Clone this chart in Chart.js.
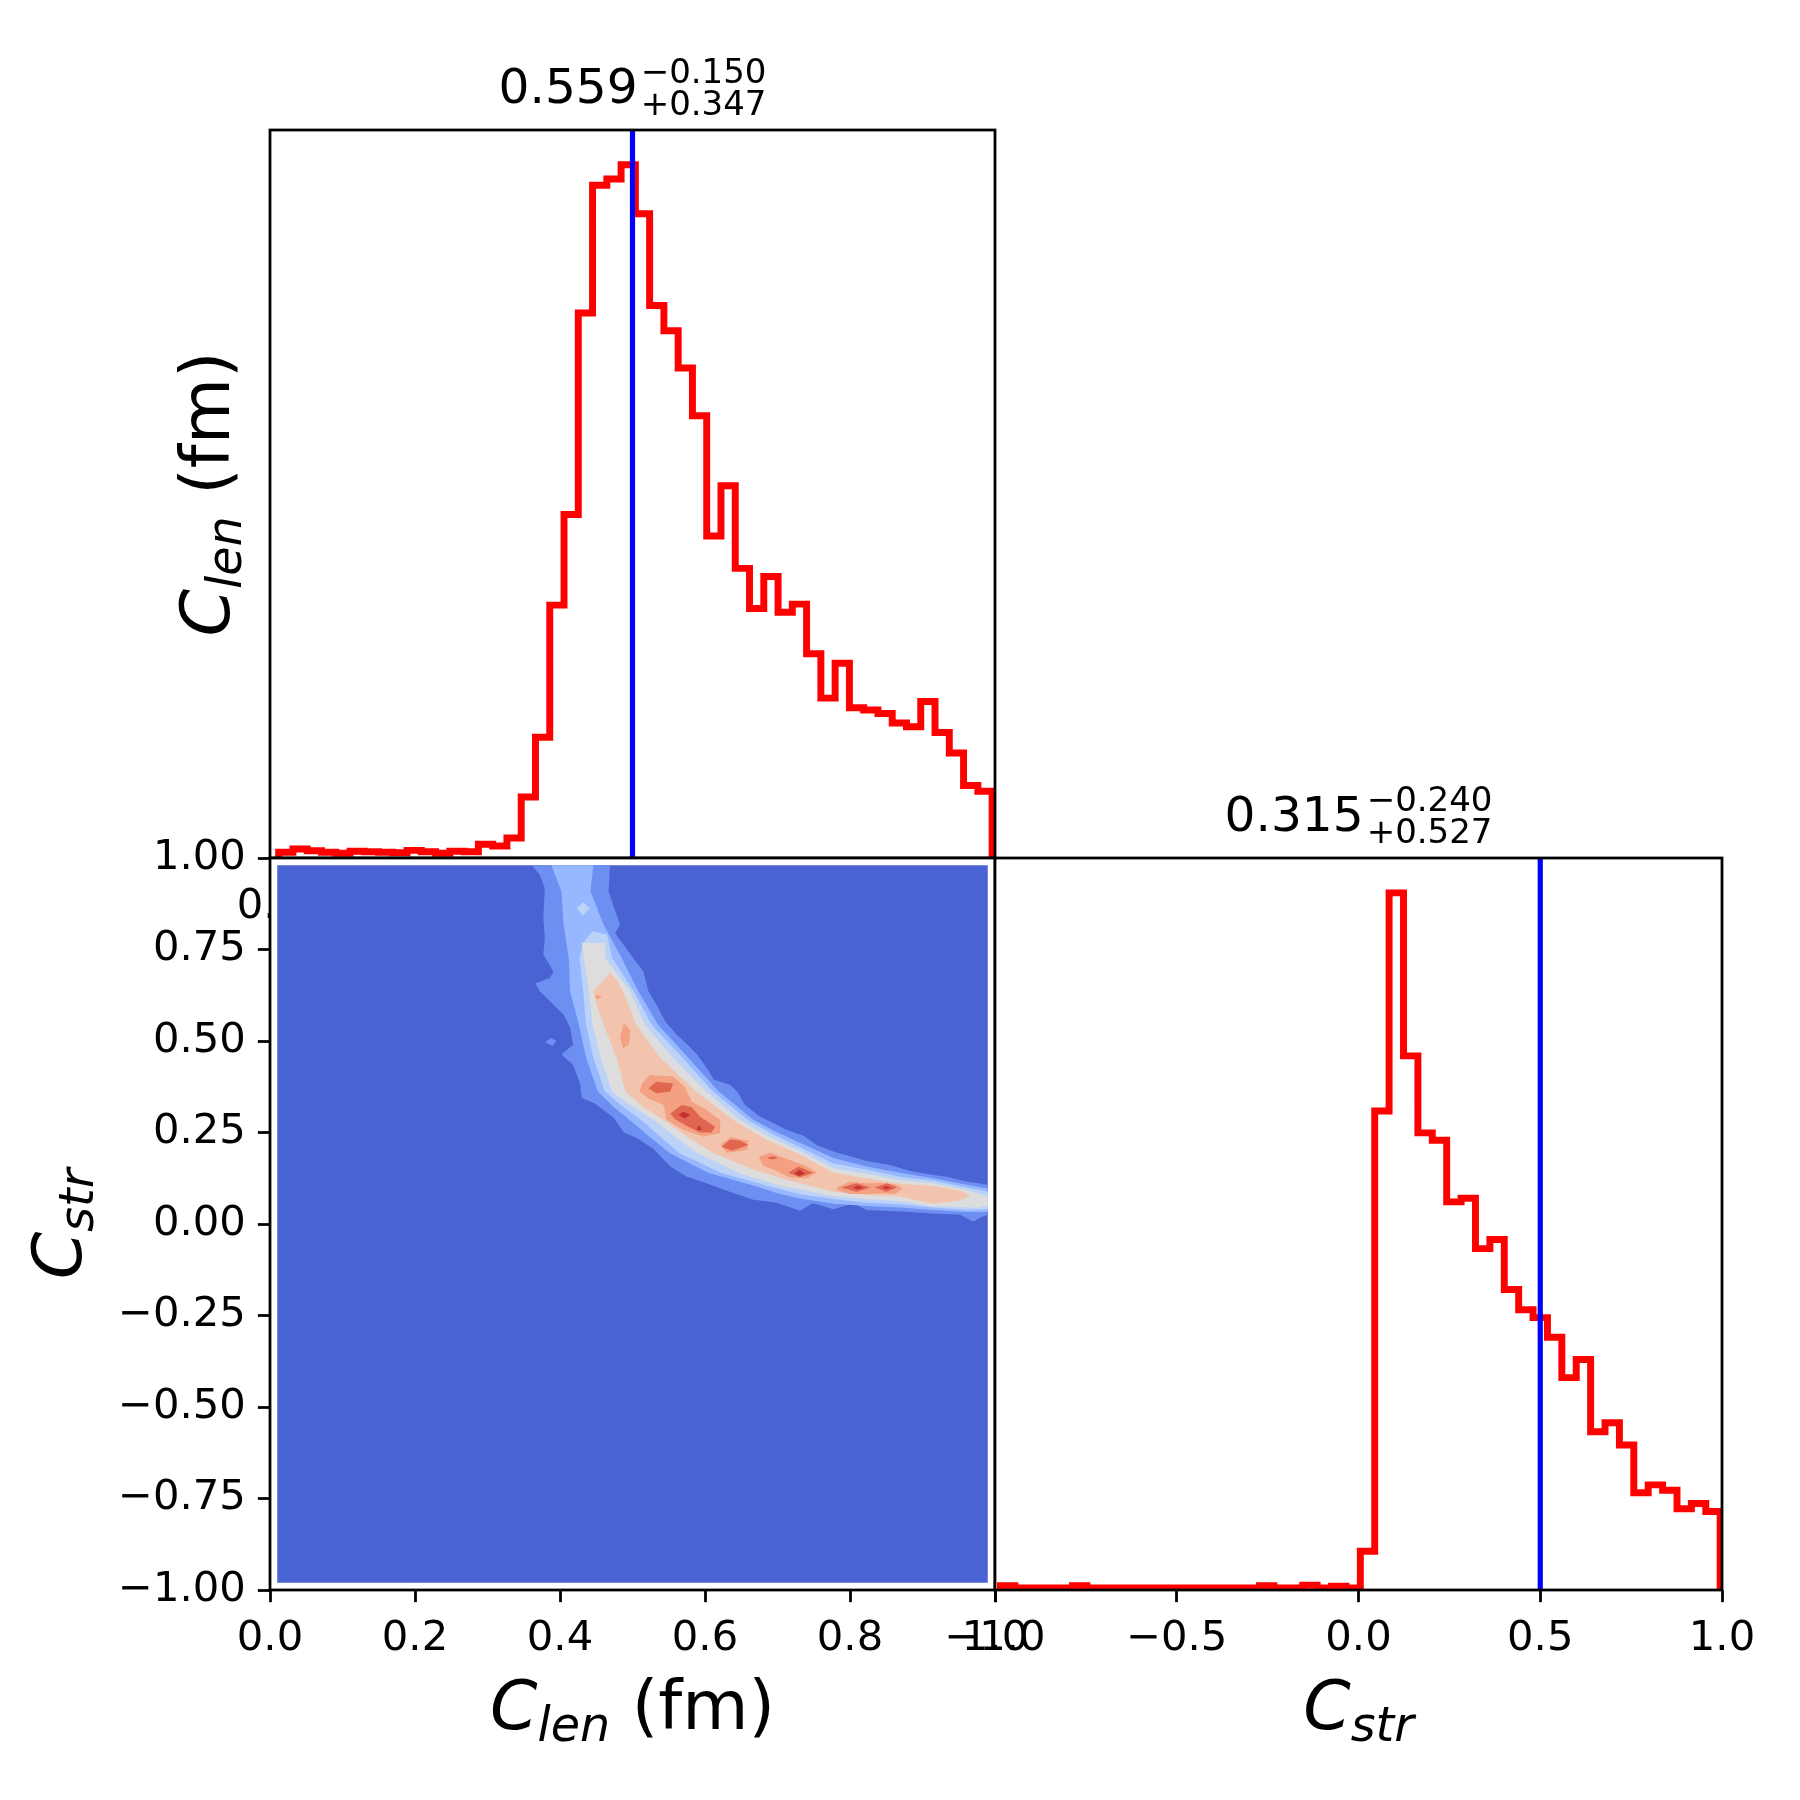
<!DOCTYPE html>
<html>
<head>
<meta charset="utf-8">
<script src="https://cdn.jsdelivr.net/npm/chart.js@4.4.0/dist/chart.umd.min.js"></script>
<style>
  html, body { margin: 0; padding: 0; background: #fff; }
  #wrap { position: relative; width: 1800px; height: 1800px; }
  canvas { position: absolute; left: 0; top: 0; }
</style>
</head>
<body>
<div id="wrap">
  <canvas id="top" width="1800" height="1800"></canvas>
  <canvas id="pair" width="1800" height="1800"></canvas>
  <canvas id="str" width="1800" height="1800"></canvas>
</div>
<script>
// ---- data ----
// C_len marginal: 50 bins
const lenBinStart = 0.0119;
const lenBinWidth = 0.019682;
const lenCounts = [12, 19, 15, 12, 10, 14, 13, 12, 11, 16, 13, 10, 14, 13, 29, 25, 42, 128, 253, 530,
  720, 1142, 1410, 1423, 1453, 1350, 1158, 1105, 1027, 927, 675, 780, 607, 523, 590, 515, 532, 428, 335, 408,
  315, 310, 303, 283, 275, 328, 263, 220, 152, 140];
const lenTruth = 0.5;
const lenTicks = [0, 0.2, 0.4, 0.6, 0.8, 1.0];

// C_str marginal: 50 bins
const strBinStart = -0.985;
const strBinWidth = 0.0396;
const strCounts = [8, 4, 4, 4, 4, 8, 4, 4, 4, 4, 4, 4, 4, 4, 4, 4, 4, 4, 8, 4, 4, 9, 4, 7, 4,
  73, 902, 1313, 1006, 861, 847, 731, 738, 643, 660, 566, 528, 513, 476, 400,
  434, 298, 315, 273, 183, 198, 188, 153, 163, 148];
const strTruth = 0.5;
const strTicks = [-1.0, -0.5, 0.0, 0.5, 1.0];
const pairYTicks = [-1.0, -0.75, -0.5, -0.25, 0.0, 0.25, 0.5, 0.75, 1.0];

// titles / labels
const lenTitle = ['0.559', '\u22120.150', '+0.347'];
const strTitle = ['0.315', '\u22120.240', '+0.527'];

// 2D density: grid extent and filled contour regions, [C_len, C_str]
const gridX = [0.01, 0.99];
const gridY = [-0.98, 0.98];
const levelColors = ['#4a63d3', '#6d8ff1', '#97b8ff', '#bcd2f7', '#dddddd', '#f3c4ad', '#f4a083', '#e06650', '#c63232'];

const level1 = [[0.361,0.980],[0.372,0.954],[0.379,0.918],[0.377,0.836],[0.379,0.781],[0.377,0.736],[0.391,0.690],[0.386,0.672],
  [0.366,0.658],[0.372,0.636],[0.391,0.599],[0.405,0.572],[0.414,0.536],[0.418,0.490],[0.402,0.463],[0.418,0.435],[0.428,0.381],
  [0.430,0.344],[0.448,0.329],[0.474,0.290],[0.488,0.250],[0.506,0.235],[0.529,0.205],[0.552,0.157],[0.575,0.129],[0.602,0.111],
  [0.634,0.088],[0.667,0.066],[0.699,0.058],[0.731,0.036],[0.749,0.057],[0.777,0.040],[0.805,0.057],[0.823,0.038],[0.869,0.034],
  [0.915,0.029],[0.952,0.025],[0.970,0.006],[0.982,0.020],[0.990,0.025],
  [0.990,0.107],[0.961,0.116],[0.933,0.129],[0.915,0.134],[0.883,0.145],[0.855,0.161],[0.823,0.172],[0.800,0.185],[0.777,0.198],
  [0.755,0.215],[0.735,0.242],[0.713,0.257],[0.690,0.280],[0.676,0.293],[0.655,0.325],[0.645,0.360],[0.635,0.380],[0.612,0.395],
  [0.603,0.425],[0.589,0.463],[0.575,0.492],[0.561,0.517],[0.545,0.554],[0.533,0.599],[0.522,0.636],[0.515,0.690],[0.501,0.727],
  [0.476,0.795],[0.483,0.818],[0.478,0.845],[0.467,0.909],[0.469,0.980]];
const level1Island = [[0.379,0.497],[0.388,0.508],[0.395,0.500],[0.390,0.486]];

const level2 = [[0.388,0.980],[0.402,0.909],[0.405,0.818],[0.412,0.727],[0.414,0.636],[0.426,0.545],[0.436,0.454],[0.452,0.362],
  [0.474,0.320],[0.496,0.284],[0.524,0.238],[0.552,0.193],[0.604,0.140],[0.669,0.104],[0.700,0.084],[0.731,0.070],[0.777,0.055],
  [0.823,0.049],[0.869,0.045],[0.915,0.038],[0.961,0.033],[0.990,0.033],
  [0.990,0.097],[0.961,0.107],[0.915,0.125],[0.869,0.140],[0.823,0.157],[0.777,0.180],[0.731,0.222],[0.700,0.250],[0.667,0.284],
  [0.619,0.362],[0.577,0.454],[0.535,0.545],[0.508,0.636],[0.485,0.727],[0.460,0.818],[0.442,0.909],[0.446,0.980]];

const level3 = [[0.445,0.800],[0.432,0.770],[0.427,0.727],[0.432,0.636],[0.436,0.545],[0.446,0.454],[0.462,0.362],[0.487,0.320],
  [0.512,0.284],[0.539,0.238],[0.565,0.193],[0.622,0.140],[0.687,0.104],[0.731,0.081],[0.777,0.068],[0.823,0.058],[0.869,0.054],
  [0.915,0.045],[0.961,0.038],[0.990,0.040],
  [0.990,0.088],[0.961,0.100],[0.915,0.118],[0.869,0.129],[0.823,0.148],[0.777,0.165],[0.731,0.210],[0.695,0.244],[0.659,0.284],
  [0.611,0.362],[0.569,0.454],[0.526,0.545],[0.502,0.636],[0.472,0.727],[0.465,0.790]];
const level3Spot = [[0.423,0.862],[0.432,0.880],[0.441,0.862],[0.432,0.843]];

const level4 = [[0.430,0.768],[0.433,0.727],[0.440,0.636],[0.445,0.545],[0.456,0.454],[0.472,0.362],[0.501,0.320],[0.530,0.284],
  [0.561,0.235],[0.590,0.193],[0.646,0.140],[0.704,0.104],[0.731,0.094],[0.777,0.076],[0.823,0.068],[0.869,0.062],[0.915,0.048],
  [0.952,0.047],[0.975,0.044],[0.990,0.050],
  [0.990,0.076],[0.961,0.093],[0.915,0.111],[0.869,0.120],[0.823,0.137],[0.777,0.152],[0.731,0.200],[0.690,0.238],[0.648,0.284],
  [0.602,0.362],[0.556,0.454],[0.517,0.545],[0.497,0.636],[0.462,0.727],[0.462,0.768]];

const level5 = [[0.469,0.686],[0.446,0.636],[0.452,0.590],[0.460,0.545],[0.478,0.454],[0.490,0.362],[0.515,0.320],[0.543,0.284],
  [0.578,0.235],[0.612,0.193],[0.665,0.150],[0.722,0.115],[0.731,0.111],[0.777,0.088],[0.823,0.079],[0.869,0.075],[0.915,0.055],
  [0.952,0.064],[0.966,0.078],
  [0.955,0.090],[0.915,0.104],[0.869,0.110],[0.823,0.125],[0.777,0.140],[0.731,0.190],[0.685,0.230],[0.639,0.284],[0.588,0.362],
  [0.538,0.454],[0.505,0.545],[0.487,0.636],[0.478,0.665]];

const level6a = [[0.510,0.362],[0.513,0.384],[0.524,0.407],[0.556,0.403],[0.572,0.375],[0.582,0.334],[0.602,0.312],[0.621,0.284],
  [0.621,0.248],[0.598,0.239],[0.570,0.257],[0.547,0.284],[0.543,0.325],[0.522,0.343]];
const level6b = [[0.621,0.216],[0.635,0.237],[0.660,0.228],[0.658,0.202],[0.630,0.195]];
const level6c = [[0.674,0.184],[0.690,0.195],[0.717,0.175],[0.740,0.158],[0.755,0.140],[0.740,0.125],[0.717,0.127],[0.699,0.145],[0.680,0.160]];
const level6d = [[0.782,0.100],[0.800,0.116],[0.823,0.111],[0.841,0.113],[0.864,0.107],[0.873,0.097],[0.862,0.082],[0.841,0.084],
  [0.823,0.082],[0.800,0.082],[0.784,0.091]];
const level6e = [[0.447,0.620],[0.452,0.626],[0.458,0.620],[0.452,0.614]];
const level6f = [[0.488,0.549],[0.497,0.530],[0.495,0.490],[0.487,0.481],[0.483,0.510]];

const level7a = [[0.522,0.371],[0.533,0.389],[0.556,0.384],[0.552,0.362],[0.533,0.357]];
const level7b = [[0.552,0.302],[0.568,0.325],[0.582,0.319],[0.593,0.293],[0.614,0.266],[0.609,0.250],[0.593,0.250],[0.575,0.268],[0.559,0.286]];
const level7c = [[0.623,0.211],[0.635,0.231],[0.648,0.228],[0.660,0.216],[0.637,0.200]];
const level7d = [[0.685,0.180],[0.694,0.186],[0.701,0.179],[0.692,0.176]];
const level7e = [[0.715,0.140],[0.729,0.157],[0.749,0.140],[0.731,0.128]];
const level7f = [[0.788,0.100],[0.809,0.111],[0.828,0.100],[0.809,0.088]];
const level7g = [[0.834,0.100],[0.851,0.111],[0.865,0.100],[0.850,0.088]];

const level8a = [[0.563,0.298],[0.570,0.307],[0.580,0.298],[0.572,0.288]];
const level8b = [[0.588,0.257],[0.592,0.270],[0.596,0.257]];
const level8c = [[0.723,0.138],[0.730,0.148],[0.738,0.138],[0.730,0.131]];
const level8d = [[0.804,0.099],[0.811,0.105],[0.819,0.099],[0.811,0.094]];
const level8e = [[0.844,0.099],[0.850,0.104],[0.857,0.099],[0.850,0.095]];

// ---- layout ----
const FONT = '"DejaVu Sans"';
const LABEL = 68, SUB = 47.6, TITLE = 48.6, SCRIPT = 34;
const TICK_LEN = 12.15, TICK_PAD = 12.15, SPINE = 2.78;
const boxTop = { left: 270, top: 130, right: 995, bottom: 858 };
const boxPair = { left: 270, top: 858, right: 995, bottom: 1590 };
const boxStr = { left: 995, top: 858, right: 1722, bottom: 1590 };
const X_AXIS_H = 110, Y_AXIS_W = 230;

const lenLabel = [{ t: 'C', size: LABEL, it: true }, { t: 'len', size: SUB, it: true, dy: 12 }, { t: ' (fm)', size: LABEL }];
const strLabel = [{ t: 'C', size: LABEL, it: true }, { t: 'str', size: SUB, it: true, dy: 12 }];

Chart.defaults.font.family = FONT;
Chart.defaults.font.size = 41.7;
Chart.defaults.color = '#000';

const fmt = (v, d) => Number(v).toFixed(d).replace('-', '\u2212');

// padding leaves room for the axis boxes so the plot area lands on the box
function pad(b, yW) {
  return { left: b.left - yW, top: b.top, right: 1800 - b.right, bottom: 1800 - b.bottom - X_AXIS_H };
}

function stepPoints(start, width, counts) {
  const pts = [{ x: start, y: 0 }];
  counts.forEach((c, i) => pts.push({ x: start + i * width, y: c }));
  pts.push({ x: start + counts.length * width, y: 0 });
  return pts;
}

const tickGrid = { display: true, drawOnChartArea: false, drawTicks: true, tickLength: TICK_LEN, tickWidth: SPINE, tickColor: '#000' };

function xAxis(min, max, ticks, digits) {
  return {
    type: 'linear', position: 'bottom', min, max,
    afterBuildTicks: a => { a.ticks = ticks.map(v => ({ value: v })); },
    afterFit: s => { s.height = X_AXIS_H; },
    border: { display: false },
    grid: tickGrid,
    ticks: { padding: TICK_PAD, maxRotation: 0, minRotation: 0, autoSkip: false, callback: v => fmt(v, digits) }
  };
}

function hiddenY(max) {
  return {
    type: 'linear', min: 0, max,
    ticks: { display: false }, grid: { display: false }, border: { display: false },
    afterFit: s => { s.width = 0; }
  };
}

function runFont(r) {
  return (r.it ? 'italic ' : '') + r.size + 'px ' + FONT;
}

function drawRuns(ctx, runs, cx, base) {
  const widths = runs.map(r => { ctx.font = runFont(r); return ctx.measureText(r.t).width; });
  let x = cx - widths.reduce((s, w) => s + w, 0) / 2;
  ctx.textAlign = 'left';
  ctx.textBaseline = 'alphabetic';
  runs.forEach((r, i) => { ctx.font = runFont(r); ctx.fillText(r.t, x, base + (r.dy || 0)); x += widths[i]; });
}

function drawRotated(ctx, runs, bx, cy) {
  ctx.save();
  ctx.translate(bx, cy);
  ctx.rotate(-Math.PI / 2);
  drawRuns(ctx, runs, 0, 0);
  ctx.restore();
}

function drawTitle(ctx, parts, cx, base) {
  const [main, sup, sub] = parts;
  ctx.font = TITLE + 'px ' + FONT;
  const wm = ctx.measureText(main).width;
  ctx.font = SCRIPT + 'px ' + FONT;
  const ws = Math.max(ctx.measureText(sup).width, ctx.measureText(sub).width);
  const gap = 3;
  const x0 = cx - (wm + gap + ws) / 2;
  ctx.textAlign = 'left';
  ctx.textBaseline = 'alphabetic';
  ctx.font = TITLE + 'px ' + FONT;
  ctx.fillText(main, x0, base);
  ctx.font = SCRIPT + 'px ' + FONT;
  ctx.fillText(sup, x0 + wm + gap, base - 20);
  ctx.fillText(sub, x0 + wm + gap, base + 11.7);
}

// white axes patch under everything, black frame and texts over everything
function framePlugin(drawText, whiteBg) {
  return {
    id: 'frame',
    beforeDraw(chart) {
      if (!whiteBg) return;
      const a = chart.chartArea, ctx = chart.ctx;
      ctx.save();
      ctx.fillStyle = '#fff';
      ctx.fillRect(a.left, a.top, a.right - a.left, a.bottom - a.top);
      ctx.restore();
    },
    afterDraw(chart) {
      const a = chart.chartArea, ctx = chart.ctx;
      ctx.save();
      ctx.strokeStyle = '#000';
      ctx.lineWidth = SPINE;
      ctx.lineJoin = 'miter';
      ctx.strokeRect(a.left, a.top, a.right - a.left, a.bottom - a.top);
      ctx.fillStyle = '#000';
      drawText(ctx, a);
      ctx.restore();
    }
  };
}

function baseOptions(box, yW, scales) {
  return {
    responsive: false, animation: false, events: [], devicePixelRatio: 1,
    layout: { padding: pad(box, yW) },
    plugins: { legend: { display: false }, tooltip: { enabled: false } },
    scales
  };
}

function histDatasets(start, width, counts, truth, ymax) {
  return [
    { data: [{ x: truth, y: 0 }, { x: truth, y: ymax }], borderColor: '#0000ff', borderWidth: 5.2,
      pointRadius: 0, fill: false, order: 0, borderCapStyle: 'butt' },
    { data: stepPoints(start, width, counts), borderColor: '#ff0000', borderWidth: 6.94, stepped: true,
      pointRadius: 0, fill: false, order: 1, borderJoinStyle: 'miter', borderCapStyle: 'butt' }
  ];
}

// ---- top: C_len marginal ----
const lenYMax = Math.max(...lenCounts) * 1.05;
new Chart(document.getElementById('top'), {
  type: 'line',
  data: { datasets: histDatasets(lenBinStart, lenBinWidth, lenCounts, lenTruth, lenYMax) },
  options: baseOptions(boxTop, 0, { x: xAxis(0, 1, lenTicks, 1), y: hiddenY(lenYMax) }),
  plugins: [framePlugin((ctx, a) => {
    drawTitle(ctx, lenTitle, (a.left + a.right) / 2, a.top - 26.7);
    drawRotated(ctx, lenLabel, a.left - 41, (a.top + a.bottom) / 2);
  }, false)]
});

// ---- bottom-left: joint density ----
const levelPolys = [
  [[[gridX[0], gridY[0]], [gridX[1], gridY[0]], [gridX[1], gridY[1]], [gridX[0], gridY[1]]]],
  [level1, level1Island],
  [level2],
  [level3, level3Spot],
  [level4],
  [level5],
  [level6a, level6b, level6c, level6d, level6e, level6f],
  [level7a, level7b, level7c, level7d, level7e, level7f, level7g],
  [level8a, level8b, level8c, level8d, level8e]
];
const pairSets = [];
levelPolys.forEach((polys, lvl) => {
  polys.forEach(poly => {
    pairSets.push({
      data: poly.map(p => ({ x: p[0], y: p[1] })),
      fill: 'shape', backgroundColor: levelColors[lvl],
      borderColor: 'rgba(0,0,0,0)', borderWidth: 0, pointRadius: 0, tension: 0,
      order: 100 - lvl
    });
  });
});

const pairY = {
  type: 'linear', min: -1, max: 1,
  afterBuildTicks: a => { a.ticks = pairYTicks.map(v => ({ value: v })); },
  afterFit: s => { s.width = Y_AXIS_W; },
  border: { display: false },
  grid: tickGrid,
  ticks: { padding: TICK_PAD, autoSkip: false, callback: v => fmt(v, 2) }
};

new Chart(document.getElementById('pair'), {
  type: 'line',
  data: { datasets: pairSets },
  options: baseOptions(boxPair, Y_AXIS_W, { x: xAxis(0, 1, lenTicks, 1), y: pairY }),
  plugins: [framePlugin((ctx, a) => {
    drawRuns(ctx, lenLabel, (a.left + a.right) / 2, a.bottom + 139);
    drawRotated(ctx, strLabel, a.left - 189, (a.top + a.bottom) / 2);
  }, true)]
});

// ---- bottom-right: C_str marginal ----
const strYMax = Math.max(...strCounts) * 1.05;
new Chart(document.getElementById('str'), {
  type: 'line',
  data: { datasets: histDatasets(strBinStart, strBinWidth, strCounts, strTruth, strYMax) },
  options: baseOptions(boxStr, 0, { x: xAxis(-1, 1, strTicks, 1), y: hiddenY(strYMax) }),
  plugins: [framePlugin((ctx, a) => {
    drawTitle(ctx, strTitle, (a.left + a.right) / 2, a.top - 27);
    drawRuns(ctx, strLabel, (a.left + a.right) / 2, a.bottom + 139);
  }, true)]
});
</script>
</body>
</html>
